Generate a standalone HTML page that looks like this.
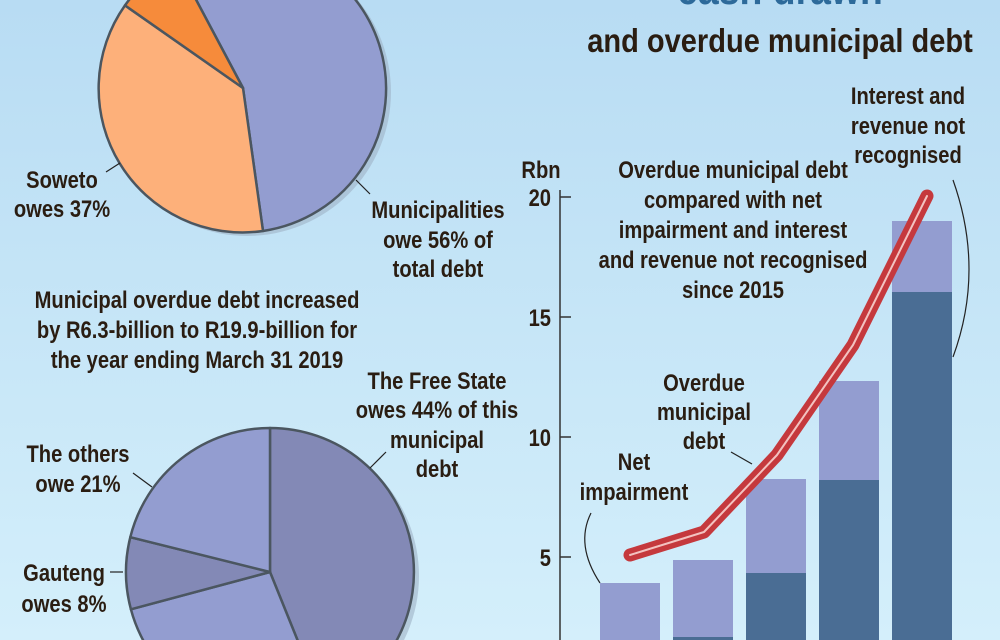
<!DOCTYPE html>
<html><head><meta charset="utf-8"><style>
html,body{margin:0;padding:0;width:1000px;height:640px;overflow:hidden}
svg{display:block}
svg text{font-family:"Liberation Sans",sans-serif;font-weight:bold;fill:#2a1d12}
</style></head><body>
<svg width="1000" height="640" viewBox="0 0 1000 640" xmlns="http://www.w3.org/2000/svg">
<defs><linearGradient id="bg" x1="0" y1="0" x2="0" y2="1">
<stop offset="0" stop-color="#b8dcf3"/><stop offset="1" stop-color="#d4effb"/></linearGradient>
<clipPath id="c"><rect width="1000" height="640"/></clipPath></defs>
<g clip-path="url(#c)">
<rect width="1000" height="640" fill="url(#bg)"/>

<circle cx="247" cy="92" r="144" fill="#9fb2c6" opacity="0.6"/>
<g stroke="#4b5660" stroke-width="2.5" stroke-linejoin="round">
<path d="M243,88 L175.4,-39.1 A144,144 0 1,1 263,231 Z" fill="#939dd0"/>
<path d="M243,88 L263,231 A144,144 0 0,1 125,5.4 Z" fill="#fdb07a"/>
<path d="M243,88 L125,5.4 A144,144 0 0,1 175.4,-39.1 Z" fill="#f68b3b"/>
</g>
<line x1="106" y1="172" x2="120" y2="163" stroke="#222" stroke-width="1.2"/>
<line x1="356" y1="180" x2="370" y2="194" stroke="#222" stroke-width="1.2"/>

<circle cx="275" cy="576" r="144" fill="#9fb2c6" opacity="0.6"/>
<g stroke="#4b5660" stroke-width="2.5" stroke-linejoin="round">
<path d="M270,572 L270,428 A144,144 0 0,1 323.9,705.5 Z" fill="#8389b6"/>
<path d="M270,572 L323.9,705.5 A144,144 0 0,1 130.9,609.3 Z" fill="#939dd0"/>
<path d="M270,572 L130.9,609.3 A144,144 0 0,1 130.3,537.2 Z" fill="#8389b6"/>
<path d="M270,572 L130.3,537.2 A144,144 0 0,1 270,428 Z" fill="#939dd0"/>
</g>
<line x1="133" y1="473" x2="152" y2="487" stroke="#222" stroke-width="1.2"/>
<line x1="110" y1="572" x2="123" y2="572" stroke="#222" stroke-width="1.2"/>
<line x1="370" y1="468" x2="386" y2="452" stroke="#222" stroke-width="1.2"/>

<g font-size="24" text-anchor="middle">
<text transform="translate(62,188) scale(0.84,1)">Soweto</text><text transform="translate(62,217) scale(0.84,1)">owes 37%</text>
<text transform="translate(438,218) scale(0.84,1)">Municipalities</text><text transform="translate(438,248) scale(0.84,1)">owe 56% of</text><text transform="translate(438,277) scale(0.84,1)">total debt</text>
<text transform="translate(197,308) scale(0.84,1)">Municipal overdue debt increased</text>
<text transform="translate(197,338) scale(0.84,1)">by R6.3-billion to R19.9-billion for</text>
<text transform="translate(197,368) scale(0.84,1)">the year ending March 31 2019</text>
<text transform="translate(437,389) scale(0.84,1)">The Free State</text><text transform="translate(437,418) scale(0.84,1)">owes 44% of this</text><text transform="translate(437,448) scale(0.84,1)">municipal</text><text transform="translate(437,477) scale(0.84,1)">debt</text>
<text transform="translate(78,462) scale(0.84,1)">The others</text><text transform="translate(78,492) scale(0.84,1)">owe 21%</text>
<text transform="translate(64,581) scale(0.84,1)">Gauteng</text><text transform="translate(64,612) scale(0.84,1)">owes 8%</text>
</g>

<text transform="translate(780,4) scale(0.85,1)" font-size="44" text-anchor="middle" style="fill:#2d6a9a">cash drawn</text>
<text transform="translate(780,52) scale(0.88,1)" font-size="33" text-anchor="middle">and overdue municipal debt</text>

<line x1="560" y1="190" x2="560" y2="640" stroke="#333" stroke-width="1.5"/>
<g stroke="#333" stroke-width="1.5">
<line x1="560" y1="197" x2="571" y2="197"/><line x1="560" y1="317" x2="571" y2="317"/>
<line x1="560" y1="437" x2="571" y2="437"/><line x1="560" y1="557" x2="571" y2="557"/>
</g>
<g font-size="24" text-anchor="end">
<text transform="translate(551,206) scale(0.84,1)">20</text><text transform="translate(551,326) scale(0.84,1)">15</text><text transform="translate(551,446) scale(0.84,1)">10</text><text transform="translate(551,566) scale(0.84,1)">5</text>
</g>
<text transform="translate(541,178) scale(0.84,1)" font-size="24" text-anchor="middle">Rbn</text>

<g fill="#939dd0">
<rect x="600" y="583" width="60" height="60"/>
<rect x="673" y="560" width="60" height="80"/>
<rect x="746" y="479" width="60" height="165"/>
<rect x="819" y="381" width="60" height="260"/>
<rect x="892" y="221" width="60" height="420"/>
</g>
<g fill="#4a6d94">
<rect x="673" y="637" width="60" height="5"/>
<rect x="746" y="573" width="60" height="70"/>
<rect x="819" y="480" width="60" height="162"/>
<rect x="892" y="292" width="60" height="350"/>
</g>

<polyline points="630,555 704,532 777,455 853,345 927,196" fill="none" stroke="#c5393d" stroke-width="13" stroke-linecap="round" stroke-linejoin="round"/>
<polyline points="630,555 704,532 777,455 853,345 927,196" fill="none" stroke="#f3c2c0" stroke-width="2" stroke-linecap="round" stroke-linejoin="round"/>

<path d="M953,180 Q985,270 953,357" fill="none" stroke="#222" stroke-width="1.2"/>
<path d="M591,513 Q575,545 600,583" fill="none" stroke="#222" stroke-width="1.2"/>
<line x1="731" y1="452" x2="752" y2="464" stroke="#222" stroke-width="1.2"/>

<g font-size="24" text-anchor="middle">
<text transform="translate(908,104) scale(0.84,1)">Interest and</text><text transform="translate(908,134) scale(0.84,1)">revenue not</text><text transform="translate(908,163) scale(0.84,1)">recognised</text>
<text transform="translate(733,178) scale(0.84,1)">Overdue municipal debt</text><text transform="translate(733,208) scale(0.84,1)">compared with net</text>
<text transform="translate(733,238) scale(0.84,1)">impairment and interest</text><text transform="translate(733,268) scale(0.84,1)">and revenue not recognised</text>
<text transform="translate(733,298) scale(0.84,1)">since 2015</text>
<text transform="translate(704,391) scale(0.84,1)">Overdue</text><text transform="translate(704,420) scale(0.84,1)">municipal</text><text transform="translate(704,449) scale(0.84,1)">debt</text>
<text transform="translate(634,470) scale(0.84,1)">Net</text><text transform="translate(634,500) scale(0.84,1)">impairment</text>
</g>
</g>
</svg>
</body></html>
